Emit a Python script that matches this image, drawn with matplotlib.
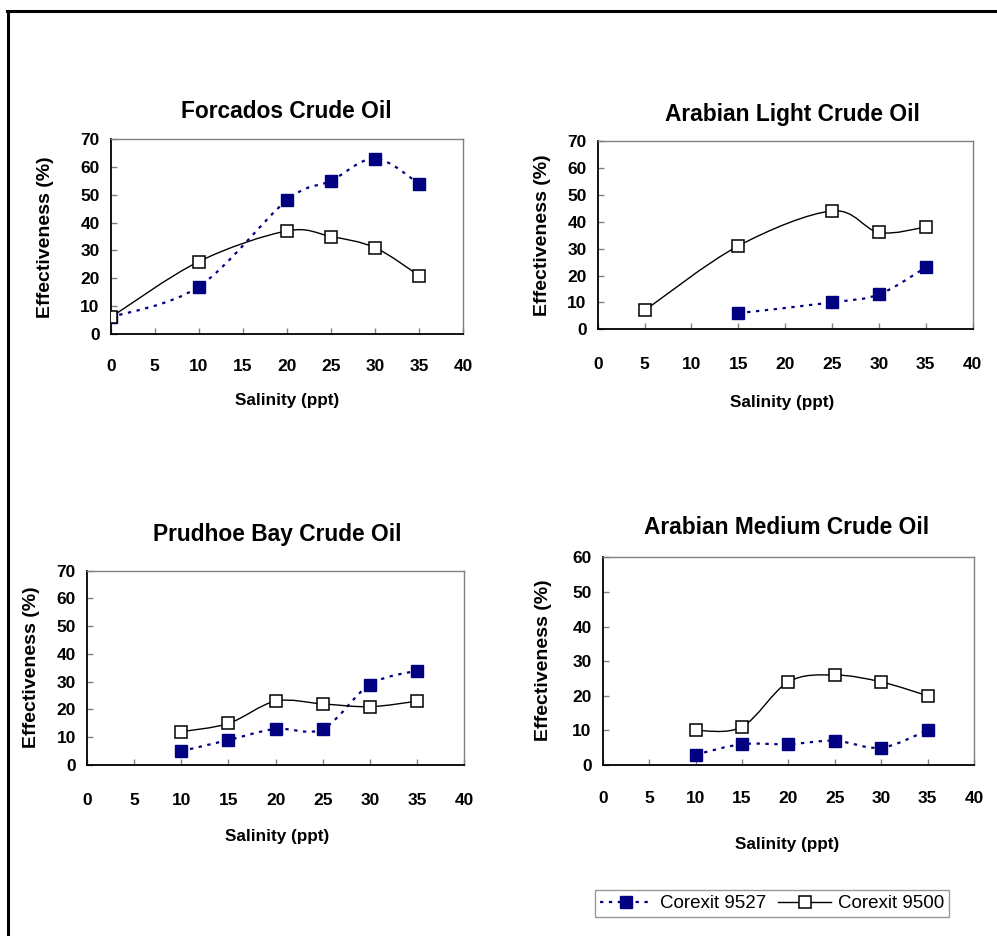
import matplotlib
matplotlib.use("Agg")
import matplotlib.pyplot as plt
import numpy as np
from matplotlib import font_manager
from matplotlib.path import Path
from matplotlib.patches import PathPatch
from matplotlib.lines import Line2D

# ---- data ----
titles = ["Forcados Crude Oil", "Arabian Light Crude Oil",
          "Prudhoe Bay Crude Oil", "Arabian Medium Crude Oil"]

forcados_x_9527 = [0, 10, 20, 25, 30, 35]
forcados_y_9527 = [6, 17, 48, 55, 63, 54]
forcados_x_9500 = [0, 10, 20, 25, 30, 35]
forcados_y_9500 = [6, 26, 37, 35, 31, 21]

arlight_x_9527 = [15, 25, 30, 35]
arlight_y_9527 = [6, 10, 13, 23]
arlight_x_9500 = [5, 15, 25, 30, 35]
arlight_y_9500 = [7, 31, 44, 36, 38]

prudhoe_x_9527 = [10, 15, 20, 25, 30, 35]
prudhoe_y_9527 = [5, 9, 13, 13, 29, 34]
prudhoe_x_9500 = [10, 15, 20, 25, 30, 35]
prudhoe_y_9500 = [12, 15, 23, 22, 21, 23]

armed_x_9527 = [10, 15, 20, 25, 30, 35]
armed_y_9527 = [3, 6, 6, 7, 5, 10]
armed_x_9500 = [10, 15, 20, 25, 30, 35]
armed_y_9500 = [10, 11, 24, 26, 24, 20]

y_max = [70, 70, 70, 60]
series_names = ["Corexit 9527", "Corexit 9500"]

W, H = 997, 936
NAVY = "#000080"
GRAY = "#808080"

# condensed look of the original Excel text
names = {f.name for f in font_manager.fontManager.ttflist}
if "Liberation Sans Narrow" in names:
    NARROW, k = "Liberation Sans Narrow", 1.0
else:
    NARROW, k = "Liberation Sans", 0.82
WIDE = "Liberation Sans"


def fx(px):
    return px / W


def fy(py):
    return 1 - py / H


def smooth_path(xs, ys):
    # Excel-like smoothed line: Bezier segments (Catmull-Rom control points)
    pts = np.column_stack([xs, ys]).astype(float)
    n = len(pts)
    verts = [pts[0]]
    codes = [Path.MOVETO]
    for i in range(n - 1):
        p0 = pts[max(i - 1, 0)]
        p1 = pts[i]
        p2 = pts[i + 1]
        p3 = pts[min(i + 2, n - 1)]
        verts += [p1 + (p2 - p0) / 6, p2 - (p3 - p1) / 6, p2]
        codes += [Path.CURVE4] * 3
    return Path(verts, codes)


fig = plt.figure(figsize=(W / 100, H / 100), dpi=100)

# axes boxes in pixels: left, right, top, bottom
boxes = [(110.7, 463, 139, 334), (597.7, 972.7, 141, 329.3),
         (87, 464.3, 570.7, 765), (602.7, 974, 557.3, 765)]
xpads = [18, 20, 20, 19]
title_pos = [(286, 112), (792, 115), (277, 534), (787, 528)]
xlabel_pos = [(287, 400), (782, 402), (277, 837), (787, 845)]
ylabel_pos = [(45, 237), (542, 235), (31, 667), (543, 660)]

data = [
    (forcados_x_9527, forcados_y_9527, forcados_x_9500, forcados_y_9500),
    (arlight_x_9527, arlight_y_9527, arlight_x_9500, arlight_y_9500),
    (prudhoe_x_9527, prudhoe_y_9527, prudhoe_x_9500, prudhoe_y_9500),
    (armed_x_9527, armed_y_9527, armed_x_9500, armed_y_9500),
]

dot_style = (0, (1.5, 2.5))

for i, (l, r, t, b) in enumerate(boxes):
    ax = fig.add_axes([fx(l), fy(b), (r - l) / W, (b - t) / H])
    x1, y1, x2, y2 = data[i]

    ax.add_patch(PathPatch(smooth_path(x1, y1), fill=False, edgecolor=NAVY,
                           lw=1.6, linestyle=dot_style, zorder=2))
    ax.plot(x1, y1, ls="none", marker="s", ms=8, mfc=NAVY, mec=NAVY, zorder=3)
    ax.add_patch(PathPatch(smooth_path(x2, y2), fill=False, edgecolor="black",
                           lw=1.0, zorder=4))
    ax.plot(x2, y2, ls="none", marker="s", ms=8, mfc="white", mec="black",
            mew=1.1, zorder=5)

    ax.set_xlim(0, 40)
    ax.set_ylim(0, y_max[i])
    ax.set_xticks(range(0, 41, 5))
    ax.set_yticks(range(0, y_max[i] + 1, 10))
    ax.tick_params(axis="both", direction="in", length=4, width=1,
                   color=GRAY, labelsize=12.5)
    ax.tick_params(axis="x", pad=xpads[i])
    ax.tick_params(axis="y", pad=8)
    for lab in ax.get_xticklabels() + ax.get_yticklabels():
        lab.set_fontfamily(WIDE)
        lab.set_fontweight("bold")
    ax.spines["left"].set_color("black")
    ax.spines["bottom"].set_color("black")
    ax.spines["left"].set_linewidth(1.3)
    ax.spines["bottom"].set_linewidth(1.3)
    ax.spines["top"].set_color(GRAY)
    ax.spines["right"].set_color(GRAY)
    ax.spines["top"].set_linewidth(1.0)
    ax.spines["right"].set_linewidth(1.0)

    tx, ty = title_pos[i]
    fig.text(fx(tx), fy(ty), titles[i], ha="center", va="center",
             fontfamily=NARROW, fontweight="bold", fontsize=20 * k)
    lx, ly = xlabel_pos[i]
    fig.text(fx(lx), fy(ly), "Salinity (ppt)", ha="center", va="center",
             fontfamily=NARROW, fontweight="bold", fontsize=15 * k)
    yx, yy = ylabel_pos[i]
    fig.text(fx(yx), fy(yy), "Effectiveness (%)", ha="center", va="center",
             rotation=90, fontfamily=WIDE, fontweight="bold", fontsize=14)

# legend
handles = [
    Line2D([], [], color=NAVY, lw=1.6, ls=dot_style, marker="s", ms=8,
           mfc=NAVY, mec=NAVY),
    Line2D([], [], color="black", lw=1.0, marker="s", ms=8, mfc="white",
           mec="black", mew=1.1),
]
fs_leg = 16.5 * k
leg = fig.legend(handles, series_names, loc="center", ncol=2,
                 bbox_to_anchor=(fx(772), fy(903.5)),
                 prop={"family": NARROW, "size": fs_leg},
                 frameon=True, fancybox=False, handlelength=38 / fs_leg,
                 handletextpad=5 / fs_leg, columnspacing=9 / fs_leg,
                 borderpad=0.25, borderaxespad=0)
leg.get_frame().set_edgecolor(GRAY)
leg.get_frame().set_linewidth(1.0)

# outer frame (left and top edges visible)
fig.add_artist(Line2D([fx(7.5), fx(7.5)], [fy(10.5), 0], color="black",
                      lw=2.2, transform=fig.transFigure))
fig.add_artist(Line2D([fx(6.5), 1], [fy(10.5), fy(10.5)], color="black",
                      lw=2.2, transform=fig.transFigure))

fig.savefig("out.png", dpi=100)
